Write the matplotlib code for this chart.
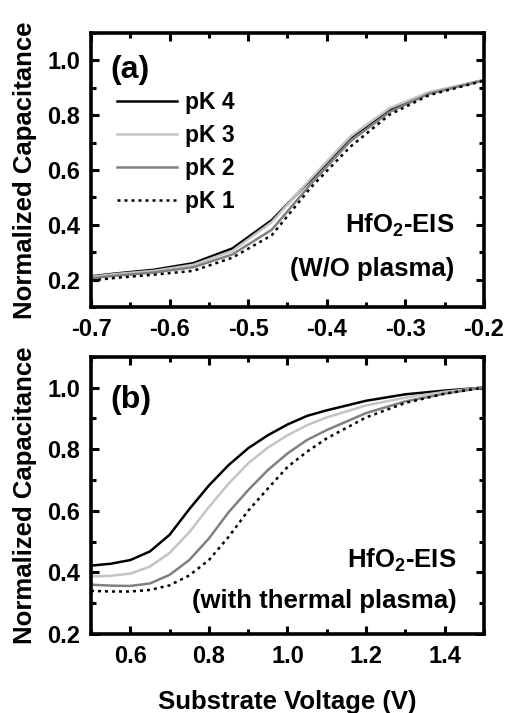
import matplotlib
matplotlib.use("Agg")
import matplotlib.pyplot as plt
from matplotlib.ticker import MultipleLocator

plt.rcParams['font.family'] = ['Liberation Sans', 'DejaVu Sans']
plt.rcParams['font.weight'] = 'bold'
plt.rcParams['mathtext.fontset'] = 'custom'
plt.rcParams['mathtext.rm'] = 'Liberation Sans:bold'
plt.rcParams['mathtext.bf'] = 'Liberation Sans:bold'

# panel (a): W/O plasma
va = [-0.70, -0.67, -0.62, -0.57, -0.52, -0.47, -0.42, -0.37, -0.32, -0.27, -0.22, -0.20]
a_pk4 = [0.212, 0.222, 0.236, 0.260, 0.314, 0.417, 0.565, 0.717, 0.820, 0.880, 0.915, 0.928]
a_pk3 = [0.210, 0.220, 0.232, 0.254, 0.305, 0.410, 0.570, 0.722, 0.826, 0.884, 0.916, 0.928]
a_pk2 = [0.205, 0.214, 0.226, 0.245, 0.292, 0.382, 0.550, 0.705, 0.812, 0.878, 0.913, 0.927]
a_pk1 = [0.197, 0.206, 0.218, 0.232, 0.280, 0.362, 0.537, 0.685, 0.802, 0.873, 0.911, 0.926]

# panel (b): with thermal plasma
vb = [0.50, 0.55, 0.60, 0.65, 0.70, 0.75, 0.80, 0.85, 0.90, 0.95, 1.00, 1.05, 1.10, 1.20, 1.30, 1.40, 1.50]
b_pk4 = [0.422, 0.428, 0.440, 0.468, 0.522, 0.605, 0.682, 0.748, 0.803, 0.845, 0.880, 0.908, 0.926, 0.957, 0.978, 0.990, 1.000]
b_pk3 = [0.387, 0.389, 0.396, 0.419, 0.463, 0.530, 0.612, 0.688, 0.754, 0.805, 0.845, 0.878, 0.903, 0.942, 0.967, 0.986, 1.000]
b_pk2 = [0.360, 0.357, 0.356, 0.364, 0.392, 0.440, 0.510, 0.595, 0.667, 0.732, 0.786, 0.830, 0.862, 0.917, 0.955, 0.980, 1.000]
b_pk1 = [0.340, 0.338, 0.338, 0.343, 0.358, 0.390, 0.440, 0.515, 0.600, 0.672, 0.742, 0.792, 0.835, 0.903, 0.950, 0.980, 1.000]

labels = ['pK 4', 'pK 3', 'pK 2', 'pK 1']
colors = ['black', '#c4c4c4', '#808080', 'black']
styles = ['-', '-', '-', (0, (1.2, 1.6))]

fig = plt.figure(figsize=(5.07, 7.13), dpi=100)
ax1 = fig.add_axes([0.1795, 0.5694, 0.775, 0.3843])
ax2 = fig.add_axes([0.1795, 0.1108, 0.775, 0.3889])


def style_axis(ax):
    for s in ax.spines.values():
        s.set_linewidth(2.6)
    ax.tick_params(which='both', direction='in', top=True, right=True, width=2.2,
                   labelsize=17, pad=8)
    ax.tick_params(which='major', length=6)
    ax.tick_params(which='minor', length=3.5)
    for lab in ax.get_xticklabels() + ax.get_yticklabels():
        lab.set_fontweight('bold')
    ax.set_ylabel('Normalized Capacitance', fontsize=18.5, fontweight='bold', labelpad=7)


for ys, lab, c, ls in zip([a_pk4, a_pk3, a_pk2, a_pk1], labels, colors, styles):
    ax1.plot(va, ys, color=c, linestyle=ls, linewidth=1.8, label=lab)
ax1.set_xlim(-0.7, -0.2)
ax1.set_ylim(0.1, 1.1)
ax1.set_xticks([-0.7, -0.6, -0.5, -0.4, -0.3, -0.2])
ax1.set_xticklabels(['-0.7', '-0.6', '-0.5', '-0.4', '-0.3', '-0.2'])
ax1.xaxis.set_minor_locator(MultipleLocator(0.05))
ax1.set_yticks([0.2, 0.4, 0.6, 0.8, 1.0])
ax1.yaxis.set_minor_locator(MultipleLocator(0.1))
style_axis(ax1)
ax1.legend(loc='upper left', bbox_to_anchor=(0.02, 0.855), frameon=False,
           prop={'size': 16.5, 'weight': 'bold'}, handlelength=2.6,
           handletextpad=0.35, labelspacing=0.43, borderaxespad=0.4)
ax1.text(0.05, 0.865, '(a)', transform=ax1.transAxes, fontsize=23,
         fontweight='bold', va='center', ha='left')
ax1.text(0.925, 0.30, r'HfO$_\mathbf{2}$-EIS', transform=ax1.transAxes,
         fontsize=18.5, fontweight='bold', ha='right', va='center')
ax1.text(0.925, 0.14, '(W/O plasma)', transform=ax1.transAxes,
         fontsize=18.5, fontweight='bold', ha='right', va='center')

for ys, lab, c, ls in zip([b_pk4, b_pk3, b_pk2, b_pk1], labels, colors, styles):
    ax2.plot(vb, ys, color=c, linestyle=ls, linewidth=1.8, label=lab)
ax2.set_xlim(0.5, 1.5)
ax2.set_ylim(0.2, 1.1)
ax2.set_xticks([0.6, 0.8, 1.0, 1.2, 1.4])
ax2.xaxis.set_minor_locator(MultipleLocator(0.1))
ax2.set_yticks([0.2, 0.4, 0.6, 0.8, 1.0])
ax2.yaxis.set_minor_locator(MultipleLocator(0.1))
style_axis(ax2)
ax2.set_xlabel('Substrate Voltage (V)', fontsize=18.5, fontweight='bold', labelpad=16)
ax2.text(0.05, 0.845, '(b)', transform=ax2.transAxes, fontsize=23,
         fontweight='bold', va='center', ha='left')
ax2.text(0.93, 0.265, r'HfO$_\mathbf{2}$-EIS', transform=ax2.transAxes,
         fontsize=18.5, fontweight='bold', ha='right', va='center')
ax2.text(0.93, 0.12, '(with thermal plasma)', transform=ax2.transAxes,
         fontsize=18.5, fontweight='bold', ha='right', va='center')

fig.savefig('out.png', dpi=100)
